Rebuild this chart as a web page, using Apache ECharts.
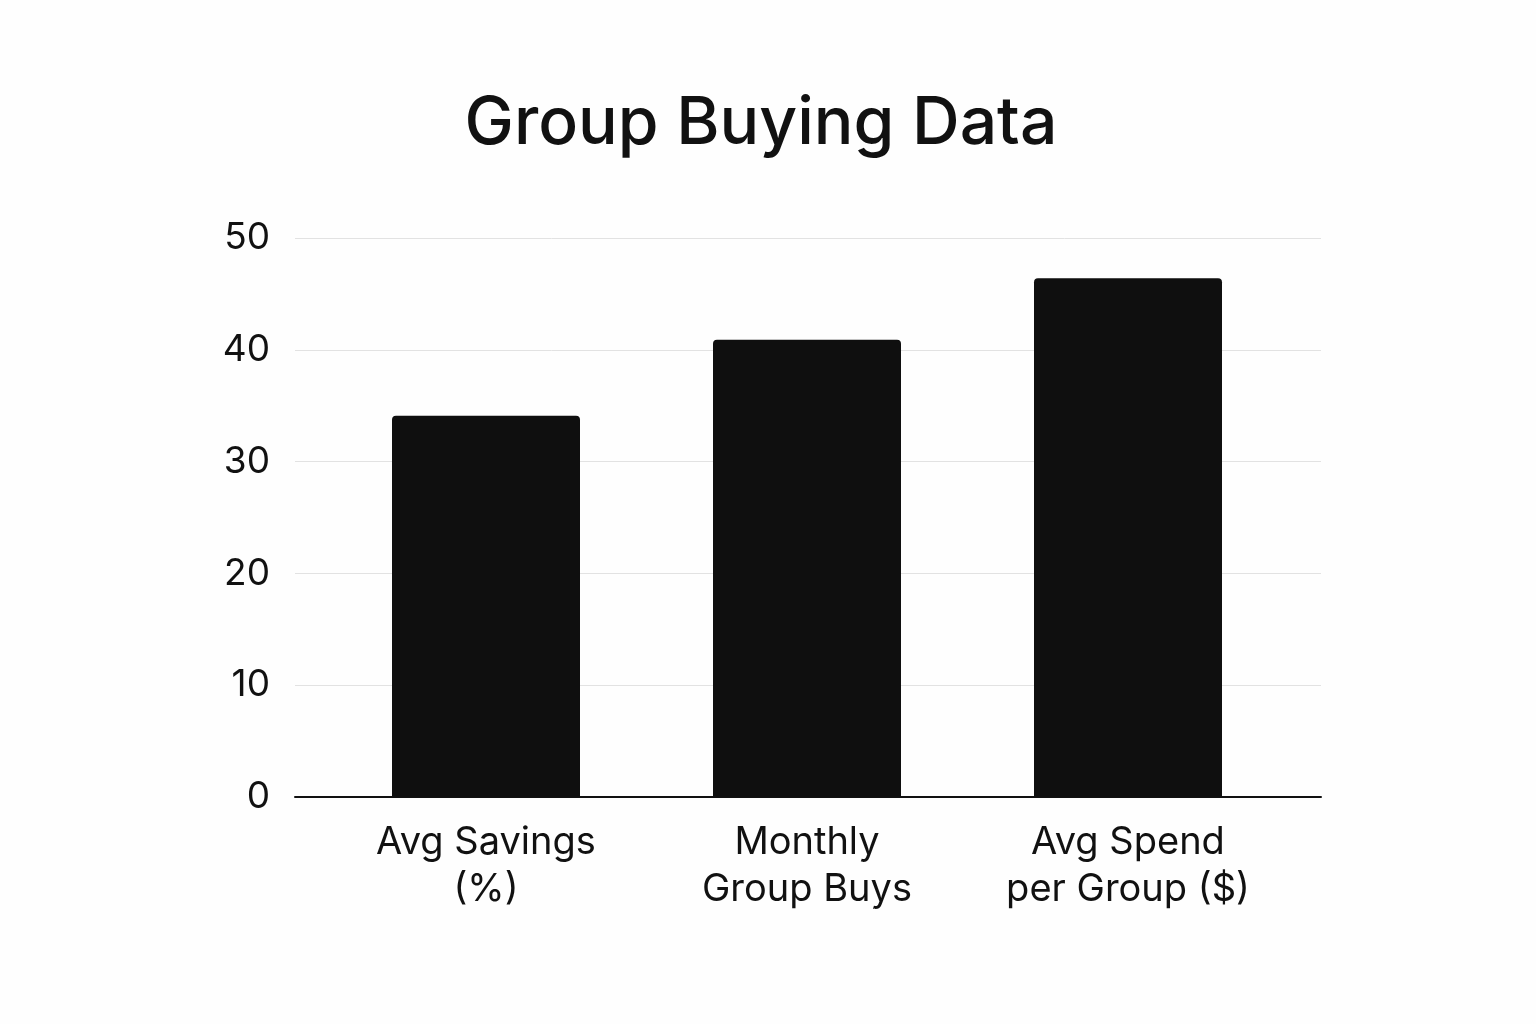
<!DOCTYPE html>
<html>
<head>
<meta charset="utf-8">
<script src="https://cdn.jsdelivr.net/npm/echarts@6/dist/echarts.min.js"></script>
<style>html,body{margin:0;padding:0;background:#fefefe;}#chart{width:1536px;height:1024px;}</style>
</head>
<body>
<div id="chart"></div>
<script>
const categories = ['Avg Savings\n(%)', 'Monthly\nGroup Buys', 'Avg Spend\nper Group ($)'];
const values = [34.1, 40.9, 46.4];
const yTicks = { min: 0, max: 50, interval: 10 };

const chart = echarts.init(document.getElementById('chart'));
const FONT = 'Inter, "Noto Sans", sans-serif';
chart.setOption({
  backgroundColor: '#fefefe',
  animation: false,
  title: {
    text: 'Group Buying Data',
    left: 756, top: 86, textAlign: 'center',
    textStyle: { fontFamily: FONT, fontSize: 66, fontWeight: 500, color: '#111' }
  },
  grid: [
    { left: 295, right: 215, top: 238, bottom: 227 },
    { left: 325.5, right: 247.5, top: 238, bottom: 227 }
  ],
  xAxis: [
    { gridIndex: 0, type: 'value', min: 0, max: 1, axisLine: { show: true, onZero: false, lineStyle: { color: '#111', width: 2 } },
      axisTick: { show: false }, axisLabel: { show: false }, splitLine: { show: false } },
    { gridIndex: 1, type: 'category', data: categories, axisLine: { show: false }, axisTick: { show: false },
      axisLabel: { fontFamily: FONT, fontSize: 38, color: '#111', lineHeight: 47, margin: 22 } }
  ],
  yAxis: [
    { gridIndex: 0, type: 'value', min: yTicks.min, max: yTicks.max, interval: yTicks.interval,
      axisLine: { show: false }, axisTick: { show: false },
      axisLabel: { fontFamily: FONT, fontSize: 37, color: '#111', margin: 25 },
      splitLine: { lineStyle: { color: '#e2e2e2', width: 1 } } },
    { gridIndex: 1, type: 'value', min: yTicks.min, max: yTicks.max, interval: yTicks.interval, show: false, splitLine: { show: false } }
  ],
  series: [{
    type: 'bar', xAxisIndex: 1, yAxisIndex: 1, data: values, barWidth: 188,
    itemStyle: { color: '#0f0f0f', borderRadius: [4, 4, 0, 0] }
  }]
});
</script>
</body>
</html>
